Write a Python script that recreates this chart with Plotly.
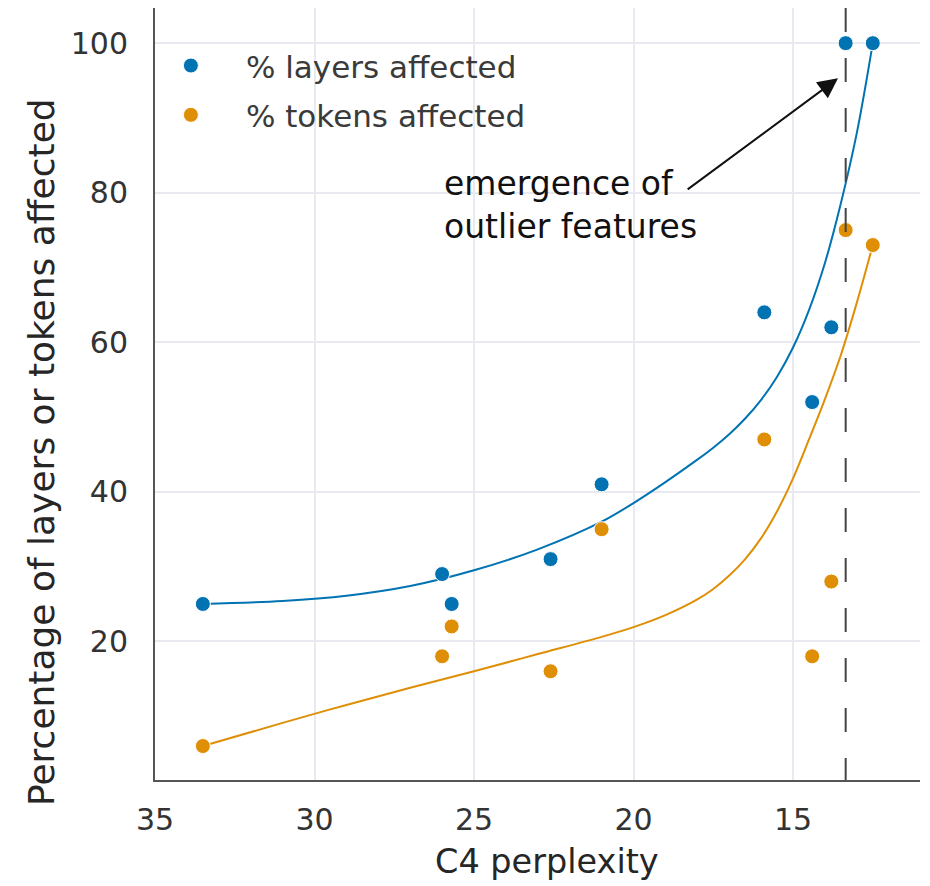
import plotly.graph_objects as go

# ---- data ----
perplexity = [33.5, 26.0, 25.7, 22.6, 21.0, 15.9, 14.4, 13.8, 13.35, 12.5]
layers_affected = [25, 29, 25, 31, 41, 64, 52, 62, 100, 100]
tokens_affected = [6, 18, 22, 16, 35, 47, 18, 28, 75, 73]

# fitted trend curves
layers_fit_x = [33.5, 31, 29, 27, 25, 23, 21, 20, 19, 18, 17.5, 17, 16.5, 16, 15.5, 15, 14.5, 14, 13.5, 13, 12.5]
layers_fit_y = [25.0, 25.4, 26.1, 27.4, 29.5, 32.3, 36.0, 38.5, 41.3, 44.3, 45.9, 47.7, 49.8, 52.3, 55.4, 59.3, 64.3, 70.6, 78.6, 88.0, 100.0]

tokens_fit_x = [33.5, 31, 29, 27, 25, 23, 21, 20, 19, 18, 17.5, 17, 16.5, 16, 15.5, 15, 14.5, 14, 13.5, 13, 12.5]
tokens_fit_y = [6.0, 9.1, 11.5, 13.8, 16.0, 18.3, 20.6, 21.9, 23.5, 25.6, 27.0, 28.8, 31.0, 33.8, 37.4, 41.8, 47.0, 52.4, 58.3, 65.3, 73.0]

emergence_x = 13.35
x_ticks = [35, 30, 25, 20, 15]
y_ticks = [20, 40, 60, 80, 100]

BLUE = "#0173b2"
ORANGE = "#de8f05"
FONT = "DejaVu Sans"
TEXT = "#262626"

fig = go.Figure()

fig.add_trace(go.Scatter(x=layers_fit_x, y=layers_fit_y, mode="lines",
                         line=dict(color=BLUE, width=2, shape="spline", smoothing=1.0),
                         showlegend=False, hoverinfo="skip"))
fig.add_trace(go.Scatter(x=tokens_fit_x, y=tokens_fit_y, mode="lines",
                         line=dict(color=ORANGE, width=2, shape="spline", smoothing=1.0),
                         showlegend=False, hoverinfo="skip"))

fig.add_trace(go.Scatter(x=perplexity, y=layers_affected, mode="markers",
                         name="% layers affected", legendgroup="a",
                         marker=dict(color=BLUE, size=15, line=dict(color="white", width=1))))
fig.add_trace(go.Scatter(x=perplexity, y=tokens_affected, mode="markers",
                         name="% tokens affected", legendgroup="b",
                         marker=dict(color=ORANGE, size=15, line=dict(color="white", width=1))))

fig.add_shape(type="line", xref="x", yref="paper", x0=emergence_x, x1=emergence_x, y0=1, y1=0,
              line=dict(color="#444444", width=2, dash="24px,26px"), layer="above")

# arrow
fig.add_annotation(x=13.59, y=95.3, ax=18.35, ay=80.3, axref="x", ayref="y",
                   xref="x", yref="y", text="", showarrow=True,
                   arrowhead=2, arrowsize=2.0, arrowwidth=2, arrowcolor="#111111")
fig.add_annotation(x=26.0, y=78.4, xref="x", yref="y", text="emergence of<br>outlier features",
                   showarrow=False, xanchor="left", yanchor="middle", align="left",
                   font=dict(family=FONT, size=33, color="#111111"))

# axis titles
fig.add_annotation(x=(546.5 - 155) / 765, y=(780 - 861) / 772, xref="paper", yref="paper",
                   text="C4 perplexity", showarrow=False, xanchor="center", yanchor="middle",
                   font=dict(family=FONT, size=33.5, color=TEXT))
fig.add_annotation(x=(41 - 155) / 765, y=(780 - 452) / 772, xref="paper", yref="paper",
                   text="Percentage of layers or tokens affected", showarrow=False,
                   textangle=-90, xanchor="center", yanchor="middle",
                   font=dict(family=FONT, size=36, color=TEXT))

fig.update_layout(
    width=930, height=886,
    margin=dict(l=155, r=10, t=8, b=106),
    plot_bgcolor="white", paper_bgcolor="white",
    font=dict(family=FONT, size=30, color=TEXT),
    legend=dict(x=-0.025, y=0.96, xanchor="left", yanchor="top",
                bgcolor="rgba(255,255,255,0)", font=dict(family=FONT, size=31, color="#3a3a3a"),
                itemwidth=100, tracegroupgap=6),
    xaxis=dict(range=[35, 11.02], tickvals=x_ticks, ticktext=[str(v) for v in x_ticks],
               showgrid=True, gridcolor="#e9e9f1", gridwidth=1.5, zeroline=False,
               showline=True, linecolor="#555555", linewidth=2,
               ticks="", ticklabelstandoff=12,
               tickfont=dict(family=FONT, size=30, color="#333333")),
    yaxis=dict(range=[1.46, 104.7], tickvals=y_ticks, ticktext=[str(v) for v in y_ticks],
               showgrid=True, gridcolor="#e9e9f1", gridwidth=1.5, zeroline=False,
               showline=True, linecolor="#555555", linewidth=2,
               ticks="", ticklabelstandoff=19,
               tickfont=dict(family=FONT, size=30, color="#333333")),
)

fig.write_html("out.html")
